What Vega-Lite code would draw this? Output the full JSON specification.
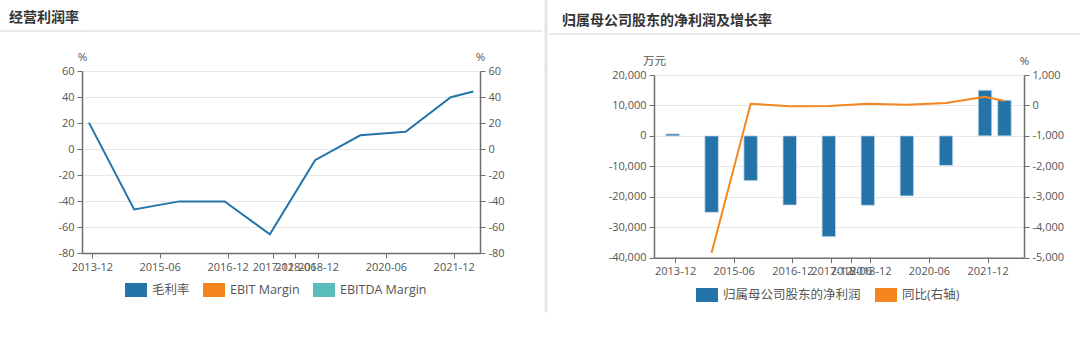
{
  "$schema": "https://vega.github.io/schema/vega-lite/v6.json",
  "background": "white",
  "padding": {"top": 0, "left": 0, "right": 0, "bottom": 0},
  "columns": 9,
  "spacing": 0,
  "bounds": "flush",
  "align": "each",
  "resolve": {"scale": {"color": "independent", "x": "independent", "y": "independent"}, "legend": {"color": "independent"}},
  "config": {
    "view": {"stroke": null},
    "font": "'Open Sans', 'Noto Sans CJK SC', sans-serif",
    "axis": {
      "labelFont": "'Open Sans', 'Noto Sans CJK SC', sans-serif",
      "labelFontSize": 11,
      "labelColor": "#555555",
      "domainColor": "#6e6e6e",
      "domainWidth": 1.5,
      "tickColor": "#6e6e6e",
      "tickWidth": 1,
      "tickSize": 5,
      "labelPadding": 3,
      "gridColor": "#e8e8e8",
      "gridWidth": 1,
      "titleFont": "'Open Sans', 'Noto Sans CJK SC', sans-serif",
      "titleFontSize": 11.5,
      "titleFontWeight": "normal",
      "titleColor": "#555555"
    },
    "legend": {
      "labelFont": "'Open Sans', 'Noto Sans CJK SC', sans-serif",
      "labelFontSize": 12.5,
      "labelColor": "#555555"
    },
    "title": {"font": "'Noto Sans CJK SC', sans-serif", "fontSize": 14, "fontWeight": "bold", "color": "#333333", "anchor": "start", "frame": "group", "offset": 6}
  },
  "concat": [
    {"width": 81, "height": 0.01, "data": {"values": []}, "mark": "point"},
    {"width": 398, "height": 0.01, "data": {"values": []}, "mark": "point"},
    {"width": 61, "height": 0.01, "data": {"values": []}, "mark": "point"},
    {"width": 5, "height": 0.01, "data": {"values": []}, "mark": "point"},
    {"width": 0.01, "height": 28.5, "data": {"values": []}, "mark": "point", "view": {"stroke": "#e6e6e6", "strokeWidth": 3}},
    {"width": 3, "height": 0.01, "data": {"values": []}, "mark": "point"},
    {"width": 104, "height": 0.01, "data": {"values": []}, "mark": "point"},
    {"width": 370, "height": 0.01, "data": {"values": []}, "mark": "point"},
    {"width": 58, "height": 0.01, "data": {"values": []}, "mark": "point"},

    {"width": 81, "height": 0.01, "data": {"values": []}, "mark": "point", "view": {"stroke": "#e2e2e2", "strokeWidth": 1.5}, "title": {"text": "经营利润率", "dx": 8}},
    {"width": 398, "height": 0.01, "data": {"values": []}, "mark": "point", "view": {"stroke": "#e2e2e2", "strokeWidth": 1.5}},
    {"width": 61, "height": 0.01, "data": {"values": []}, "mark": "point", "view": {"stroke": "#e2e2e2", "strokeWidth": 1.5}},
    {"width": 5, "height": 0.01, "data": {"values": []}, "mark": "point"},
    {"width": 0.01, "height": 3, "data": {"values": []}, "mark": "point", "view": {"stroke": "#e6e6e6", "strokeWidth": 3}},
    {"width": 3, "height": 0.01, "data": {"values": []}, "mark": "point"},
    {"width": 104, "height": 0.01, "data": {"values": []}, "mark": "point"},
    {"width": 370, "height": 0.01, "data": {"values": []}, "mark": "point"},
    {"width": 58, "height": 0.01, "data": {"values": []}, "mark": "point"},

    {"width": 81, "height": 0.01, "data": {"values": []}, "mark": "point"},
    {"width": 398, "height": 0.01, "data": {"values": []}, "mark": "point"},
    {"width": 61, "height": 0.01, "data": {"values": []}, "mark": "point"},
    {"width": 5, "height": 0.01, "data": {"values": []}, "mark": "point"},
    {"width": 0.01, "height": 37, "data": {"values": []}, "mark": "point", "view": {"stroke": "#e6e6e6", "strokeWidth": 3}},
    {"width": 3, "height": 0.01, "data": {"values": []}, "mark": "point"},
    {"width": 104, "height": 0.01, "data": {"values": []}, "mark": "point", "view": {"stroke": "#e2e2e2", "strokeWidth": 1.5}, "title": {"text": "归属母公司股东的净利润及增长率", "dx": 12}},
    {"width": 370, "height": 0.01, "data": {"values": []}, "mark": "point", "view": {"stroke": "#e2e2e2", "strokeWidth": 1.5}},
    {"width": 58, "height": 0.01, "data": {"values": []}, "mark": "point", "view": {"stroke": "#e2e2e2", "strokeWidth": 1.5}},

    {"width": 81, "height": 0.01, "data": {"values": []}, "mark": "point"},
    {
      "width": 398,
      "height": 182,
      "data": {"values": [
        {"date": "2013-12-01", "series": "毛利率", "v": 20.3},
        {"date": "2014-12-01", "series": "毛利率", "v": -46.5},
        {"date": "2015-12-01", "series": "毛利率", "v": -40.3},
        {"date": "2016-12-01", "series": "毛利率", "v": -40.3},
        {"date": "2017-12-01", "series": "毛利率", "v": -65.6},
        {"date": "2018-12-01", "series": "毛利率", "v": -8.6},
        {"date": "2019-12-01", "series": "毛利率", "v": 10.5},
        {"date": "2020-12-01", "series": "毛利率", "v": 13.3},
        {"date": "2021-12-01", "series": "毛利率", "v": 39.8},
        {"date": "2022-06-01", "series": "毛利率", "v": 44.3}
      ]},
      "layer": [
        {
          "mark": {"type": "line", "strokeWidth": 2},
          "encoding": {
            "x": {
              "field": "date", "type": "temporal",
              "scale": {"type": "utc", "nice": false, "domain": [{"year": 2013, "month": 10, "date": 6, "utc": true}, {"year": 2022, "month": 7, "date": 25, "utc": true}]},
              "axis": {
                "values": [
                  {"year": 2013, "month": 12, "date": 25, "utc": true},
                  {"year": 2015, "month": 6, "date": 25, "utc": true},
                  {"year": 2016, "month": 12, "date": 25, "utc": true},
                  {"year": 2017, "month": 12, "date": 25, "utc": true},
                  {"year": 2018, "month": 6, "date": 25, "utc": true},
                  {"year": 2018, "month": 12, "date": 25, "utc": true},
                  {"year": 2020, "month": 6, "date": 25, "utc": true},
                  {"year": 2021, "month": 12, "date": 25, "utc": true}
                ],
                "format": "%Y-%m", "labelOverlap": false, "labelFlush": false, "title": null, "grid": false
              }
            },
            "y": {
              "field": "v", "type": "quantitative",
              "scale": {"domain": [-80, 60], "nice": false, "zero": false},
              "axis": {"values": [-80, -60, -40, -20, 0, 20, 40, 60], "format": ".0f", "labelExpr": "replace(datum.label, '−', '-')", "grid": true, "title": "%", "titleAngle": 0, "titleX": 0, "titleY": -14, "titleAlign": "center", "titleBaseline": "middle"}
            },
            "color": {
              "field": "series", "type": "nominal",
              "scale": {"domain": ["毛利率", "EBIT Margin", "EBITDA Margin"], "range": ["#2574a9", "#f5861f", "#5bbcbc"]},
              "legend": {
                "orient": "none", "legendX": 36, "legendY": 201, "direction": "horizontal", "title": null,
                "symbolType": "stroke", "symbolSize": 484, "symbolStrokeWidth": 14, "labelOffset": -2, "columnPadding": -15
              }
            }
          }
        },
        {
          "mark": {"type": "line", "strokeOpacity": 0},
          "encoding": {
            "x": {"field": "date", "type": "temporal"},
            "y": {
              "field": "v", "type": "quantitative",
              "scale": {"domain": [-80, 60], "nice": false, "zero": false},
              "axis": {"orient": "right", "values": [-80, -60, -40, -20, 0, 20, 40, 60], "format": ".0f", "labelExpr": "replace(datum.label, '−', '-')", "grid": false, "title": "%", "titleAngle": 0, "titleX": 0, "titleY": -14, "titleAlign": "center", "titleBaseline": "middle"}
            }
          }
        }
      ],
      "resolve": {"scale": {"y": "independent"}}
    },
    {"width": 61, "height": 0.01, "data": {"values": []}, "mark": "point"},
    {"width": 5, "height": 0.01, "data": {"values": []}, "mark": "point"},
    {"width": 0.01, "height": 240, "data": {"values": []}, "mark": "point", "view": {"stroke": "#e6e6e6", "strokeWidth": 3}},
    {"width": 3, "height": 0.01, "data": {"values": []}, "mark": "point"},
    {"width": 104, "height": 0.01, "data": {"values": []}, "mark": "point"},
    {
      "width": 370,
      "height": 186.7,
      "data": {"values": [
        {"date": "2013-12-01", "profit": 650, "growth": null},
        {"date": "2014-12-01", "profit": -25100, "growth": -4840},
        {"date": "2015-12-01", "profit": -14700, "growth": 58},
        {"date": "2016-12-01", "profit": -22700, "growth": -29},
        {"date": "2017-12-01", "profit": -33100, "growth": -20},
        {"date": "2018-12-01", "profit": -22800, "growth": 58},
        {"date": "2019-12-01", "profit": -19700, "growth": 25},
        {"date": "2020-12-01", "profit": -9700, "growth": 80},
        {"date": "2021-12-01", "profit": 15000, "growth": 288},
        {"date": "2022-06-01", "profit": 11700, "growth": 146}
      ]},
      "layer": [
        {
          "mark": {"type": "bar", "width": 13.5, "color": "#2574a9", "stroke": "#c6dbea", "strokeWidth": 0.8},
          "encoding": {
            "x": {
              "field": "date", "type": "temporal",
              "scale": {"type": "utc", "nice": false, "domain": [{"year": 2013, "month": 7, "date": 27, "utc": true}, {"year": 2022, "month": 10, "date": 15, "utc": true}]},
              "axis": {
                "values": [
                  {"year": 2013, "month": 12, "date": 25, "utc": true},
                  {"year": 2015, "month": 6, "date": 25, "utc": true},
                  {"year": 2016, "month": 12, "date": 25, "utc": true},
                  {"year": 2017, "month": 12, "date": 25, "utc": true},
                  {"year": 2018, "month": 6, "date": 25, "utc": true},
                  {"year": 2018, "month": 12, "date": 25, "utc": true},
                  {"year": 2020, "month": 6, "date": 25, "utc": true},
                  {"year": 2021, "month": 12, "date": 25, "utc": true}
                ],
                "format": "%Y-%m", "labelOverlap": false, "labelFlush": false, "title": null, "grid": false
              }
            },
            "y": {
              "field": "profit", "type": "quantitative",
              "scale": {"domain": [-40000, 20000], "nice": false, "range": [186.7, 4]},
              "axis": {"values": [-40000, -30000, -20000, -10000, 0, 10000, 20000], "format": ",.0f", "labelExpr": "replace(datum.label, '−', '-')", "grid": true, "title": "万元", "titleAngle": 0, "titleX": 0, "titleY": -9.5, "titleAlign": "center", "titleBaseline": "middle"}
            }
          }
        },
        {
          "mark": {"type": "line", "strokeWidth": 2},
          "encoding": {
            "x": {"field": "date", "type": "temporal"},
            "y": {
              "field": "growth", "type": "quantitative",
              "scale": {"domain": [-5000, 1000], "nice": false, "range": [186.7, 4]},
              "axis": {"orient": "right", "values": [-5000, -4000, -3000, -2000, -1000, 0, 1000], "format": ",.0f", "labelExpr": "replace(datum.label, '−', '-')", "grid": false, "title": "%", "titleAngle": 0, "titleX": 0, "titleY": -10, "titleAlign": "center", "titleBaseline": "middle"}
            },
            "color": {
              "datum": "同比(右轴)", "type": "nominal",
              "scale": {"domain": ["归属母公司股东的净利润", "同比(右轴)"], "range": ["#2574a9", "#f5861f"]},
              "legend": {
                "orient": "none", "legendX": 35, "legendY": 206, "direction": "horizontal", "title": null,
                "symbolType": "stroke", "symbolSize": 484, "symbolStrokeWidth": 14, "labelOffset": -2, "columnPadding": -14
              }
            }
          }
        }
      ],
      "resolve": {"scale": {"y": "independent"}}
    },
    {"width": 58, "height": 0.01, "data": {"values": []}, "mark": "point"}
  ]
}
